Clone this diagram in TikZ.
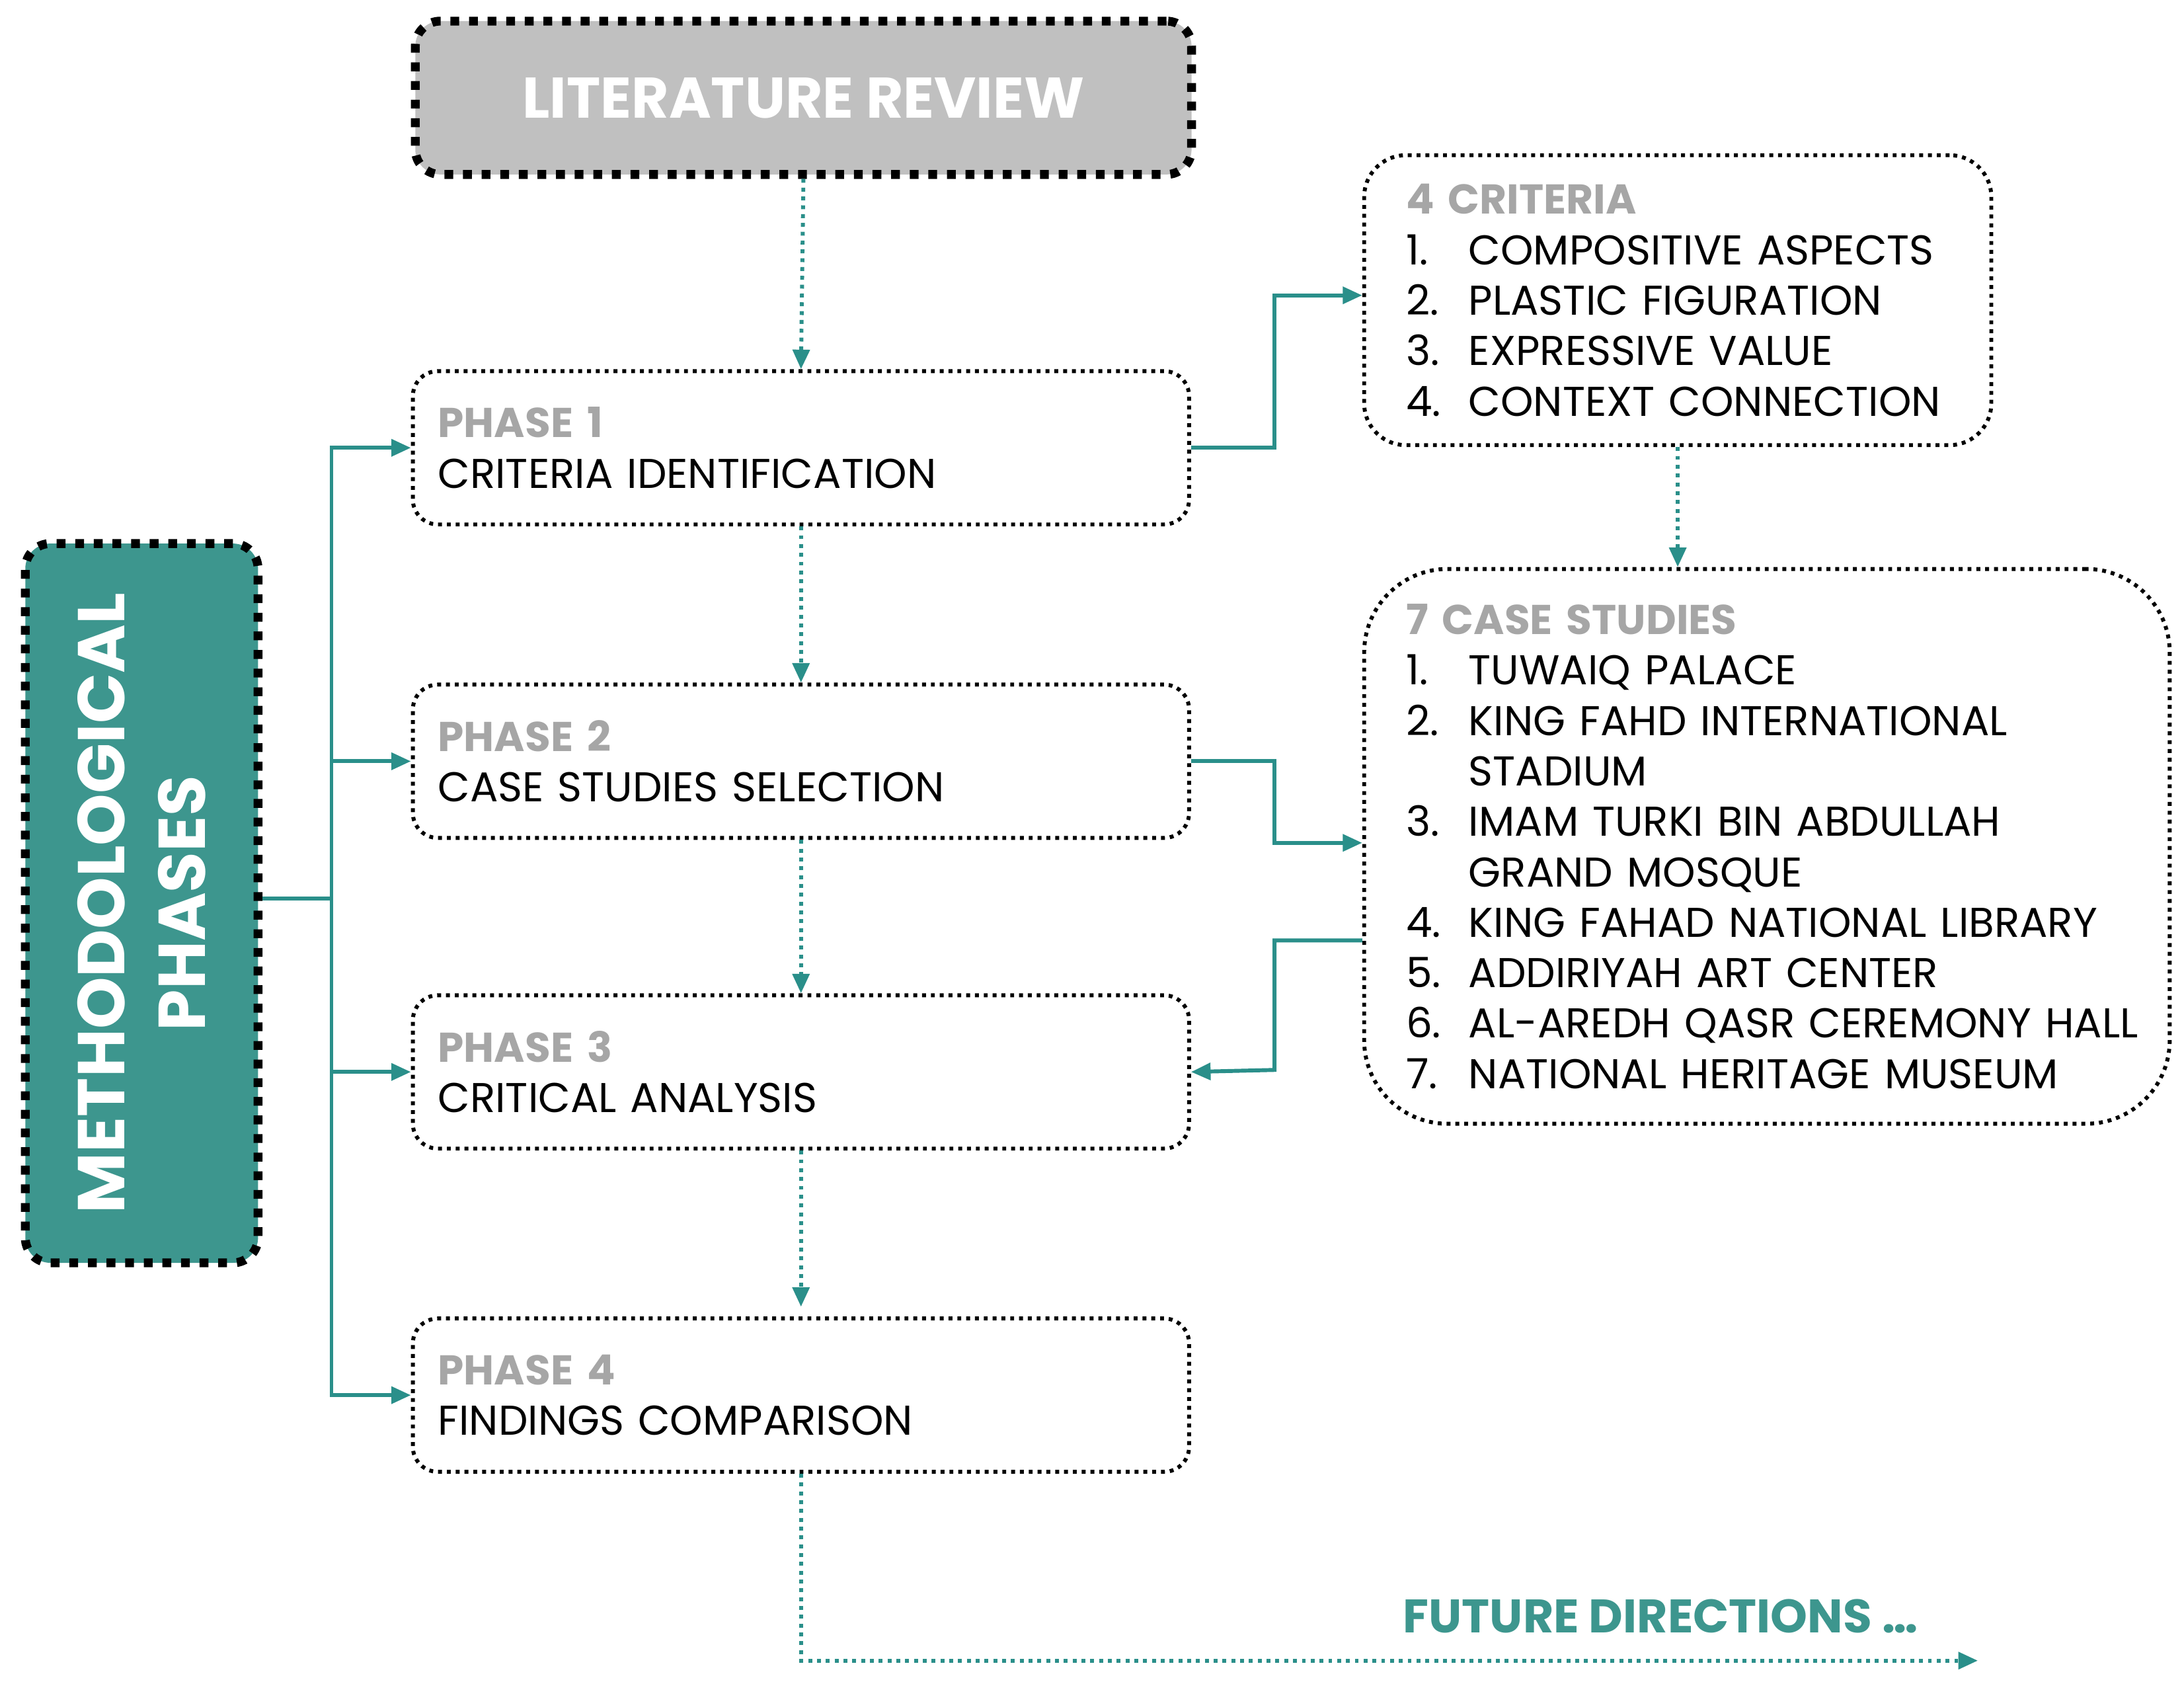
\documentclass[tikz,border=0pt]{standalone}
\usepackage{fontspec}
\setmainfont{Poppins}
\usetikzlibrary{arrows.meta,positioning}
\definecolor{teal1}{HTML}{3D968E}
\definecolor{teal2}{HTML}{2A8F8A}
\definecolor{greyhd}{HTML}{A6A6A6}
\definecolor{greybox}{HTML}{C0C0C0}
\hyphenpenalty=10000
\tikzset{
  box/.style={draw, densely dotted, rounded corners=0.18cm, thick, align=left,
    font=\fontsize{8.5}{10.3}\selectfont, inner xsep=0.18cm, anchor=north west},
  side/.style={box, inner xsep=0.3cm},
  link/.style={teal2, thick, -{Triangle[length=0.14cm,width=0.12cm]}},
  dlink/.style={teal2, thick, densely dotted, -{Triangle[length=0.14cm,width=0.12cm]}}
}
\newcommand{\itm}[1]{\makebox[0.45cm][l]{#1}}
\newcommand{\hdr}[1]{{\bfseries\color{greyhd}#1}}
\begin{document}
\begin{tikzpicture}[x=0.01cm,y=-0.01cm]
  \useasboundingbox (0,0) rectangle (1568,1207);
  % boxes
  \node[box, draw=black, line width=1.8pt, dotted, fill=greybox, minimum width=5.57cm, minimum height=1.1cm,
    align=center, font=\fontsize{11.7}{14}\selectfont\bfseries\color{white}] (lit) at (295,12) {LITERATURE REVIEW};
  \node[box, draw=black, line width=1.8pt, dotted, fill=teal1, minimum width=1.67cm, minimum height=5.16cm] (meth) at (15,387) {};
  \node[rotate=90, align=center, font=\fontsize{13.5}{16.5}\selectfont\bfseries\color{white}] (methtxt) at (meth.center) {METHODOLOGICAL\\PHASES};
  \node[box, text width=5.21cm, minimum height=1.1cm] (p1) at (295,265) {\hdr{PHASE 1}\\CRITERIA IDENTIFICATION};
  \node[box, text width=5.21cm, minimum height=1.1cm] (p2) at (295,490) {\hdr{PHASE 2}\\CASE STUDIES SELECTION};
  \node[box, text width=5.21cm, minimum height=1.1cm] (p3) at (295,713) {\hdr{PHASE 3}\\CRITICAL ANALYSIS};
  \node[box, text width=5.21cm, minimum height=1.1cm] (p4) at (295,945) {\hdr{PHASE 4}\\FINDINGS COMPARISON};
  \node[side, text width=3.9cm, minimum height=2.08cm, rounded corners=0.3cm] (crit) at (978,110)
    {\hdr{4 CRITERIA}\\\itm{1.}COMPOSITIVE ASPECTS\\\itm{2.}PLASTIC FIGURATION\\\itm{3.}EXPRESSIVE VALUE\\\itm{4.}CONTEXT CONNECTION};
  \node[side, text width=5.18cm, minimum height=3.98cm, rounded corners=0.6cm] (cases) at (978,407)
    {\hdr{7 CASE STUDIES}\\\itm{1.}TUWAIQ PALACE\\\itm{2.}KING FAHD INTERNATIONAL\\\itm{}STADIUM\\
     \itm{3.}IMAM TURKI BIN ABDULLAH\\\itm{}GRAND MOSQUE\\\itm{4.}KING FAHAD NATIONAL LIBRARY\\
     \itm{5.}ADDIRIYAH ART CENTER\\\mbox{\itm{6.}AL-AREDH QASR CEREMONY HALL}\\\itm{7.}NATIONAL HERITAGE MUSEUM};
  \node[font=\fontsize{9.6}{12}\selectfont\bfseries\color{teal1}, anchor=west] (future) at (995,1160) {FUTURE DIRECTIONS \dots};
  \coordinate (fend) at (1420,1192);
  % solid links
  \draw[teal2, thick] (meth.east |- 0,645) -- (238,645) coordinate (hub);
  \foreach \p in {p1,p2,p3,p4} \draw[link] (hub) |- (\p.west);
  \draw[link] (p1.east) -| (915,212) -- (crit.west |- 0,212);
  \draw[link] (p2.east) -| (915,605) -- (cases.west |- 0,605);
  \draw[link] (cases.west |- 0,675) -| (915,768) -- (p3.east);
  % dotted links
  \draw[dlink] (lit.south) -- (p1.north);
  \draw[dlink] (p1.south) -- (p2.north);
  \draw[dlink] (p2.south) -- (p3.north);
  \draw[dlink] (p3.south) -- ([yshift=0.07cm]p4.north);
  \draw[dlink] (crit.south) -- (crit.south |- cases.north);
  \draw[dlink] (p4.south) |- (fend);
\end{tikzpicture}
\end{document}
